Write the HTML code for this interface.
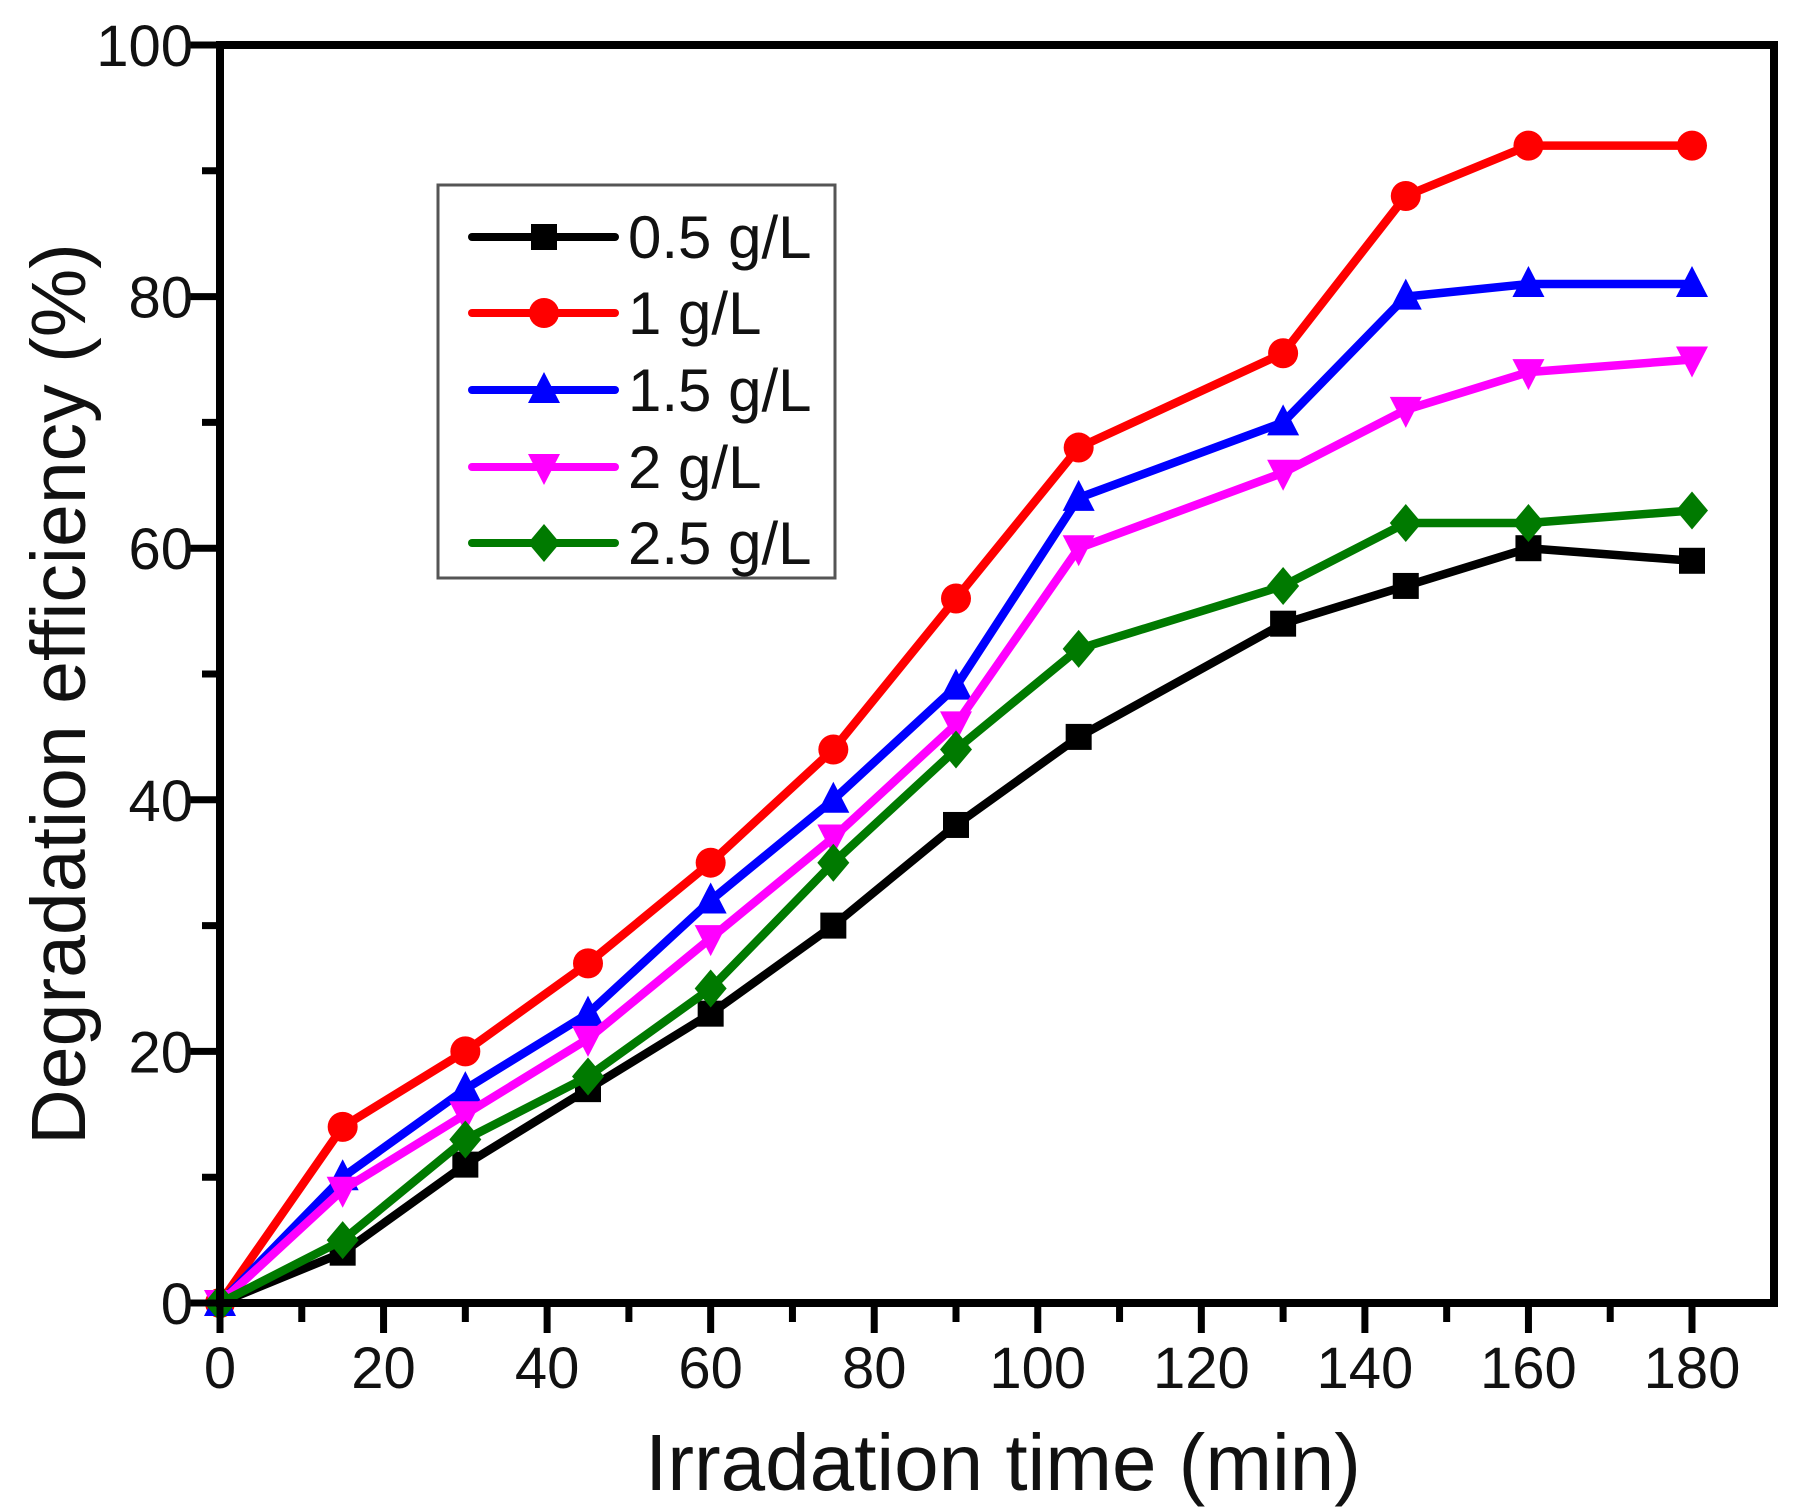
<!DOCTYPE html>
<html><head><meta charset="utf-8">
<style>
html,body{margin:0;padding:0;background:#fff;}
svg{display:block;font-family:"Liberation Sans",Arial,sans-serif;}
</style></head>
<body>
<svg id="chart" width="1818" height="1507" viewBox="0 0 1818 1507" xmlns="http://www.w3.org/2000/svg">
<g id="plot"></g>
</svg>
<script>
const times = [0,15,30,45,60,75,90,105,130,145,160,180];
const s05 = [0,4,11,17,23,30,38,45,54,57,60,59];
const s10 = [0,14,20,27,35,44,56,68,75.5,88,92,92];
const s15 = [0,10,17,23,32,40,49,64,70,80,81,81];
const s20 = [0,9,15,21,29,37,46,60,66,71,74,75];
const s25 = [0,5,13,18,25,35,44,52,57,62,62,63];
const seriesNames = ["0.5 g/L","1 g/L","1.5 g/L","2 g/L","2.5 g/L"];
const xTicks = [0,20,40,60,80,100,120,140,160,180];
const yTicks = [0,20,40,60,80,100];

const NS="http://www.w3.org/2000/svg";
const svg=document.getElementById('plot');
const X0=220, Y0=1303, XS=(1692-220)/180, YS=(1303-45)/100;
const xp=v=>X0+v*XS, yp=v=>Y0-v*YS;
function mk(tag,attrs,parent){const e=document.createElementNS(NS,tag);for(const k in attrs)e.setAttribute(k,attrs[k]);(parent||svg).appendChild(e);return e;}

const series=[
 {d:s05,c:"#000000",m:"square"},
 {d:s10,c:"#ff0000",m:"circle"},
 {d:s15,c:"#0000ff",m:"up"},
 {d:s20,c:"#ff00ff",m:"down"},
 {d:s25,c:"#007a00",m:"diamond"}];

function marker(type,x,y,c,g){
  let e;
  if(type==="square") e=mk('rect',{x:x-13,y:y-13,width:26,height:26,fill:c},g);
  else if(type==="circle") e=mk('circle',{cx:x,cy:y,r:15,fill:c},g);
  else if(type==="up") e=mk('polygon',{points:`${x},${y-18} ${x+16},${y+13} ${x-16},${y+13}`,fill:c},g);
  else if(type==="down") e=mk('polygon',{points:`${x},${y+18} ${x+16},${y-13} ${x-16},${y-13}`,fill:c},g);
  else e=mk('polygon',{points:`${x},${y-19} ${x+16},${y} ${x},${y+19} ${x-16},${y}`,fill:c},g);
  return e;
}

series.forEach((s,i)=>{
  const g=mk('g',{});
  
  
  const pts=s.d.map((v,j)=>xp(times[j])+','+yp(v)).join(' ');
  mk('polyline',{points:pts,fill:'none',stroke:s.c,'stroke-width':8.5,'stroke-linejoin':'round'},g);
  s.d.forEach((v,j)=>{
    const m=marker(s.m,xp(times[j]),yp(v),s.c,g);
    
    
  });
});

const frame=mk('rect',{x:X0,y:45,width:1774-X0,height:Y0-45,fill:'none',stroke:'#000','stroke-width':8});



for(let v=0;v<=189;v+=10){
  const maj=v%20===0;
  mk('line',{x1:xp(v),y1:Y0,x2:xp(v),y2:Y0+(maj?30:19),stroke:'#000','stroke-width':7});
}
xTicks.forEach(v=>{
  const t=mk('text',{x:xp(v),y:1388,'font-size':58,'text-anchor':'middle',fill:'#111'});
  t.textContent=v;
  
  
});
for(let v=0;v<=100;v+=10){
  const maj=v%20===0;
  mk('line',{x1:X0,y1:yp(v),x2:X0-(maj?30:18),y2:yp(v),stroke:'#000','stroke-width':7});
}
yTicks.forEach(v=>{
  const t=mk('text',{x:193,y:yp(v)+21,'font-size':58,'text-anchor':'end',fill:'#111'});
  t.textContent=v;
  
  
});

const xt=mk('text',{x:1003,y:1490,'font-size':80,'text-anchor':'middle',fill:'#111'});
xt.textContent='Irradation time (min)';


const yt=mk('text',{x:0,y:0,'font-size':77,'text-anchor':'middle',fill:'#111',transform:'translate(85,694) rotate(-90)'});
yt.textContent='Degradation efficiency (%)';



const lg=mk('g',{});


mk('rect',{x:438,y:185,width:397,height:393,fill:'#fff',stroke:'#555','stroke-width':3},lg);
const rows=[237,313,390,467,543];
series.forEach((s,i)=>{
  const e=mk('g',{},lg);
  
  
  mk('line',{x1:472,y1:rows[i],x2:615,y2:rows[i],stroke:s.c,'stroke-width':8,'stroke-linecap':'round'},e);
  marker(s.m,544,rows[i],s.c,e);
  const t=mk('text',{x:628,y:rows[i]+21,'font-size':60,fill:'#111'},e);
  t.textContent=seriesNames[i];
});
</script>
</body></html>
